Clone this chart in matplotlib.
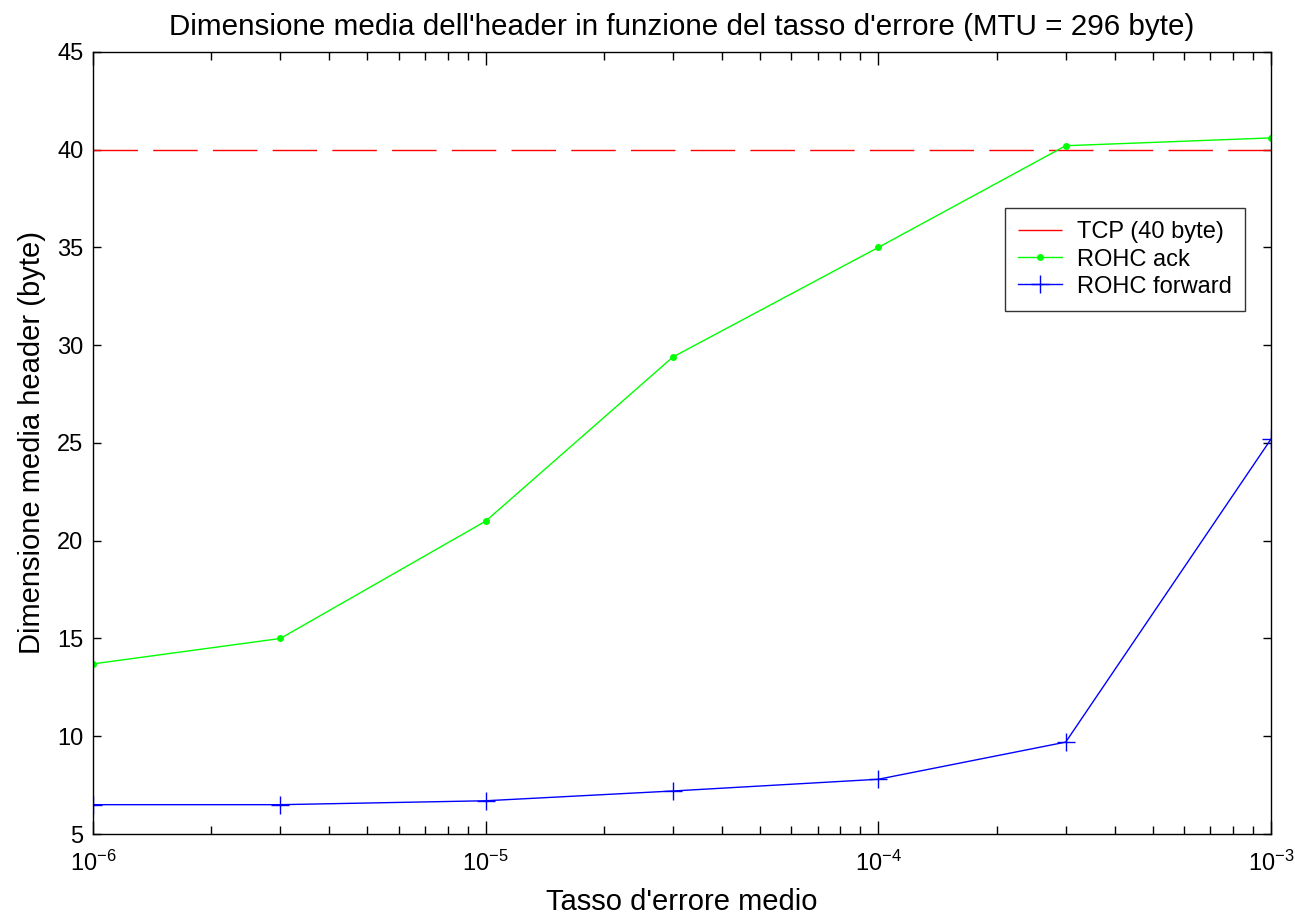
import matplotlib
matplotlib.use("Agg")
import matplotlib.pyplot as plt
from matplotlib.ticker import LogLocator, FixedLocator

plt.rcParams['font.family'] = ['Liberation Sans', 'DejaVu Sans']
plt.rcParams['mathtext.fontset'] = 'custom'
plt.rcParams['mathtext.rm'] = 'Liberation Sans'
plt.rcParams['mathtext.default'] = 'regular'

# tasso d'errore medio
error_rate = [1e-6, 3e-6, 1e-5, 3e-5, 1e-4, 3e-4, 1e-3]
# dimensione media header (byte)
rohc_ack = [13.7, 15.0, 21.0, 29.4, 35.0, 40.2, 40.6]
rohc_forward = [6.5, 6.5, 6.7, 7.2, 7.8, 9.7, 25.2]
tcp_header = 40

x_ticks = [1e-6, 1e-5, 1e-4, 1e-3]
x_ticklabels = ['$10^{-6}$', '$10^{-5}$', '$10^{-4}$', '$10^{-3}$']
y_ticks = [5, 10, 15, 20, 25, 30, 35, 40, 45]

fig = plt.figure(figsize=(12.95, 9.18), dpi=100)
ax = fig.add_axes([0.0718, 0.0915, 0.9097, 0.852])

ax.plot([error_rate[0], error_rate[-1]], [tcp_header, tcp_header],
        color=(1, 0, 0), lw=1.0, dashes=(32, 11), label='TCP (40 byte)')
ax.plot(error_rate, rohc_ack, color=(0, 1, 0), lw=1.0, marker='.',
        markersize=8, label='ROHC ack')
ax.plot(error_rate, rohc_forward, color=(0, 0, 1), lw=1.0, marker='+',
        markersize=13, mew=1.0, label='ROHC forward')

ax.set_xscale('log')
ax.set_xlim(1e-6, 1e-3)
ax.set_ylim(5, 45)
ax.set_xticks(x_ticks)
ax.set_xticklabels(x_ticklabels)
ax.xaxis.set_minor_locator(LogLocator(base=10, subs=range(2, 10), numticks=20))
ax.yaxis.set_major_locator(FixedLocator(y_ticks))

ax.tick_params(which='both', direction='in', top=True, right=True,
               labelsize=17, width=1.0, color='black')
ax.tick_params(axis='x', which='major', length=9.5, pad=12)
ax.tick_params(axis='x', which='minor', length=6)
ax.tick_params(axis='y', which='major', length=6, pad=7)
for sp in ax.spines.values():
    sp.set_linewidth(1.0)

ax.set_title("Dimensione media dell'header in funzione del tasso d'errore (MTU = 296 byte)",
             fontsize=21.3, pad=12)
ax.set_xlabel("Tasso d'errore medio", fontsize=21, labelpad=9)
ax.set_ylabel("Dimensione media header (byte)", fontsize=21, labelpad=8)

leg = ax.legend(loc='upper right', bbox_to_anchor=(0.988, 0.815), fontsize=17,
                frameon=True, fancybox=False, edgecolor='black',
                handlelength=1.85, handletextpad=0.65, borderpad=0.55,
                labelspacing=0.22)
leg.get_frame().set_linewidth(1.0)

fig.savefig('out.png', dpi=100)
